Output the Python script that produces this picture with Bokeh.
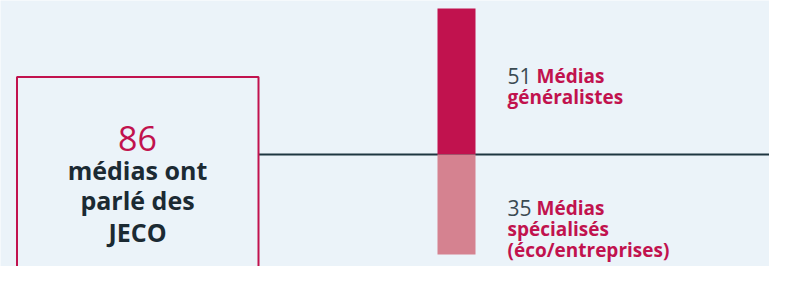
from bokeh.plotting import figure
from bokeh.models import Range1d
from bokeh.core.properties import value
from bokeh.embed import file_html
from bokeh.resources import INLINE

# data
total = 86
total_lines = ["médias ont", "parlé des", "JECO"]
counts = [51, -35]
numbers = ["51", "35"]
label_first = ["Médias", "Médias"]
label_rest = [["généralistes"], ["spécialisés", "(éco/entreprises)"]]
bar_colors = ["#c1124e", "#d58290"]

BG = "#ebf3f9"
CRIMSON = "#c1124e"
DARK = "#1b2a33"
FONT = value("Open Sans")

H = 266
p = figure(width=769, height=H, output_backend="svg", toolbar_location=None,
           x_range=Range1d(0, 769), y_range=Range1d(-39.2, 53.8),
           min_border=0)
p.axis.visible = False
p.grid.visible = False
p.outline_line_color = None
p.background_fill_color = BG
p.border_fill_color = BG

def yu(ref_y):
    return (161.7 - ref_y) / 3.0

# horizontal baseline
p.line(x=[258, 769], y=[0, 0], line_color="#1e3640", line_width=2)

# bars
p.quad(left=[437, 437], right=[475, 475], bottom=[0, 0], top=counts,
       fill_color=bar_colors, line_color=None)

# total box
p.quad(left=[16.5], right=[258], top=[yu(80.5)], bottom=[-60],
       fill_color=None, line_color=CRIMSON, line_width=2)

p.text(x=[137], y=[yu(145)], text=[str(total)], text_font=FONT,
       text_font_size="34px", text_color=CRIMSON, text_align="center",
       text_baseline="alphabetic")
p.text(x=[137, 137, 137], y=[yu(178), yu(210), yu(243)], text=total_lines,
       text_font=FONT, text_font_style="bold", text_font_size="25px",
       text_color=DARK, text_align="center", text_baseline="alphabetic")

# right labels
first_base = [80, 218]
for i in range(2):
    b = first_base[i]
    p.text(x=[507], y=[yu(b)], text=[numbers[i]], text_font=FONT,
           text_font_size="21px", text_color="#3a4a52", text_align="left",
           text_baseline="alphabetic")
    p.text(x=[536], y=[yu(b)], text=[label_first[i]], text_font=FONT,
           text_font_style="bold", text_font_size="19px", text_color=CRIMSON,
           text_align="left", text_baseline="alphabetic")
    for j, t in enumerate(label_rest[i]):
        p.text(x=[507], y=[yu(b + 22 * (j + 1))], text=[t], text_font=FONT,
               text_font_style="bold", text_font_size="19px", text_color=CRIMSON,
               text_align="left", text_baseline="alphabetic")

open("out.html", "w").write(file_html(p, INLINE))
